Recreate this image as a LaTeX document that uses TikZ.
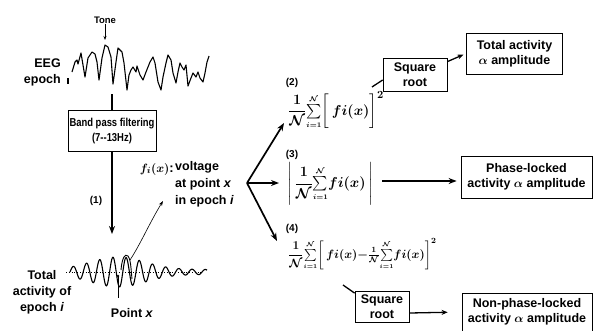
\documentclass[tikz,border=0pt]{standalone}
\usepackage{amsmath}
\usepackage{fontspec}
\setmainfont{Liberation Sans}
\newfontfamily\condfont{Liberation Sans}[FakeStretch=0.82]
\usetikzlibrary{arrows.meta}
\newcommand{\mysum}{{\textstyle\sum\limits_{\scriptscriptstyle i=1}^{\scriptscriptstyle\mathcal N}}}
\begin{document}
\begin{tikzpicture}[x=1pt,y=-1pt,
  txt/.style={font=\bfseries\fontsize{12.5}{16}\selectfont, inner sep=0pt, align=center},
  small/.style={font=\bfseries\fontsize{10}{11}\selectfont, inner sep=0pt},
  boxA/.style={draw, line width=0.8pt, align=center, inner sep=0pt,
    font=\bfseries\fontsize{12.5}{15}\selectfont},
  formula/.style={inner sep=0pt, font=\fontsize{15}{17}\selectfont\boldmath},
  bigarrow/.style={line width=1.7pt, -{Stealth[length=8pt,width=6pt]}},
  medarrow/.style={line width=1.3pt, -{Stealth[length=6pt,width=5pt]}},
  thinarrow/.style={line width=0.6pt, -{Stealth[length=5pt,width=3.5pt]}},
  wave/.style={line width=1.1pt, line join=round}
]
\useasboundingbox (0,0) rectangle (594,330);

% ---------- left column ----------
\node[small, font=\bfseries\fontsize{9.5}{10}\selectfont] (tone) at (105,20) {Tone};
\coordinate (tonetip) at (105,40);
\draw[line width=0.8pt,-{Stealth[length=4pt,width=3pt]}] (tone.south) -- (tonetip);

\node[txt, align=right, anchor=east] (eeg) at (61,72) {EEG\\epoch};

% raw EEG trace
\draw[line width=1.2pt] (68,78) -- (68,84);
\draw[wave] (72,72) -- (75,62) -- (77,60) -- (78,64) -- (81,53) -- (83,65) -- (85,77) -- (88,58)
 -- (92,52) -- (95,54) -- (97,62) -- (99,80) -- (102,58) -- (105,45) -- (108,47) -- (111,57)
 -- (113,84) -- (116,62) -- (118,48) -- (122,52) -- (124,63) -- (127,90) -- (129,75) -- (131,70)
 -- (133,67) -- (136,72) -- (137,66) -- (140,75) -- (143,80) -- (146,72) -- (150,62) -- (153,57)
 -- (155,63) -- (158,82) -- (161,90) -- (163,77) -- (166,63) -- (168,55) -- (171,60) -- (173,73)
 -- (176,83) -- (178,72) -- (180,63) -- (182,67) -- (184,70) -- (186,65) -- (188,86) -- (191,78)
 -- (193,73) -- (196,77) -- (198,72) -- (200,78) -- (203,82) -- (205,73) -- (207,62) -- (209,56);

\coordinate (eegbot) at (112,94);
\node[boxA, minimum width=88pt, minimum height=41pt, font=\condfont\bfseries\fontsize{11.5}{15}\selectfont] (bp) at (112,131)
  {Band pass filtering\\(7--13Hz)};
\draw[line width=1.7pt] (eegbot) -- (bp.north);
\coordinate (tip1) at (112,234);
\draw[bigarrow] (bp.south) -- (tip1);
\node[small] (l1) at (96,201) {(1)};

% filtered trace
\draw[dotted, line width=0.8pt] (66,272) -- (202,272);
\draw[line width=1.1pt] plot[domain=70:207, samples=260, smooth]
  (\x, {272 - (2.5+12.5*exp(-1*((\x-118)/38)*((\x-118)/38)))*sin((\x-70)/13.2*360)});
\draw[line width=0.9pt] (121,270) .. controls (122,258) and (125,253) .. (128,256)
  .. controls (131,260) and (131,270) .. (132,279);

\node[txt] (tot) at (42,292) {Total\\activity of\\epoch \textit{i}};
\coordinate (px) at (118,276);
\node[txt] (pointx) at (132,313) {Point \textit{x}};
\draw[line width=0.6pt] (px) -- (118,298);
\fill (px) circle (1.4pt);

% f_i(x) label
\node[inner sep=0pt, anchor=east, font=\fontsize{13}{14}\selectfont\boldmath] (fix) at (174,169) {$f_i(x)$\textbf{:}};
\node[txt, align=left, anchor=north west, font=\bfseries\fontsize{12.5}{17}\selectfont] (volt) at (175,161)
  {voltage\\at point \textit{x}\\in epoch \textit{i}};
\coordinate (peak) at (130,260);
\coordinate (voltend) at (163,201);
\draw[thinarrow] (peak) .. controls (140,245) and (150,222) .. (voltend);

% ---------- branching ----------
\coordinate (br) at (247,183);
\coordinate (tip2) at (284,123);
\coordinate (tip3) at (279,183);
\coordinate (tip4) at (277,241);
\draw[bigarrow] (br) -- (tip2);
\draw[bigarrow] (br) -- (tip3);
\draw[bigarrow] (br) -- (tip4);

% ---------- formulas ----------
\node[small] (l2) at (292,83) {(2)};
\node[formula, anchor=west] (f2) at (288,110)
  {$\displaystyle\frac{1}{\mathcal N}\mysum\bigg[\,fi(x)\bigg]^{2}$};

\node[small] (l3) at (292,155) {(3)};
\node[formula, anchor=west] (f3) at (287,184)
  {$\Bigg|\,\displaystyle\frac{1}{\mathcal N}\mysum fi(x)\,\Bigg|$};

\node[small] (l4) at (292,229) {(4)};
\node[formula, anchor=west, font=\fontsize{11.5}{14}\selectfont\boldmath] (f4) at (288,254)
  {$\displaystyle\frac{1}{\mathcal N}\mysum\bigg[\,fi(x){-}\tfrac{1}{\mathcal N}\mysum fi(x)\bigg]^{2}$};

% ---------- right boxes ----------
\node[boxA, minimum width=64pt, minimum height=33pt] (sq1) at (415,74.5) {Square\\root};
\node[boxA, minimum width=96pt, minimum height=41pt] (totbox) at (514.5,53.5)
  {Total activity\\$\boldsymbol{\alpha}$ amplitude};
\node[boxA, minimum width=131pt, minimum height=42pt] (ph) at (526.5,177)
  {Phase-locked\\activity $\boldsymbol{\alpha}$ amplitude};
\node[boxA, minimum width=54pt, minimum height=31pt] (sq2) at (382,307) {Square\\root};
\node[boxA, minimum width=130pt, minimum height=38pt] (nph) at (527,312)
  {Non-phase-locked\\activity $\boldsymbol{\alpha}$ amplitude};

% connectors
\coordinate (f2out) at (372,87);
\draw[line width=1.3pt] (f2out) -- (sq1.west |- 0,80);
\draw[medarrow, shorten >=3pt] ([yshift=-4pt]sq1.north east) -- (totbox.west);
\coordinate (f3out) at (382,181);
\draw[bigarrow, shorten >=4pt] (f3out) -- (ph.west |- f3out);
\coordinate (f4out) at (343,285);
\draw[line width=1.3pt] (f4out) -- ([yshift=-2pt]sq2.north west);
\draw[medarrow, shorten >=14pt] ([yshift=-6pt]sq2.east) -- (nph.west);
\end{tikzpicture}
\end{document}
